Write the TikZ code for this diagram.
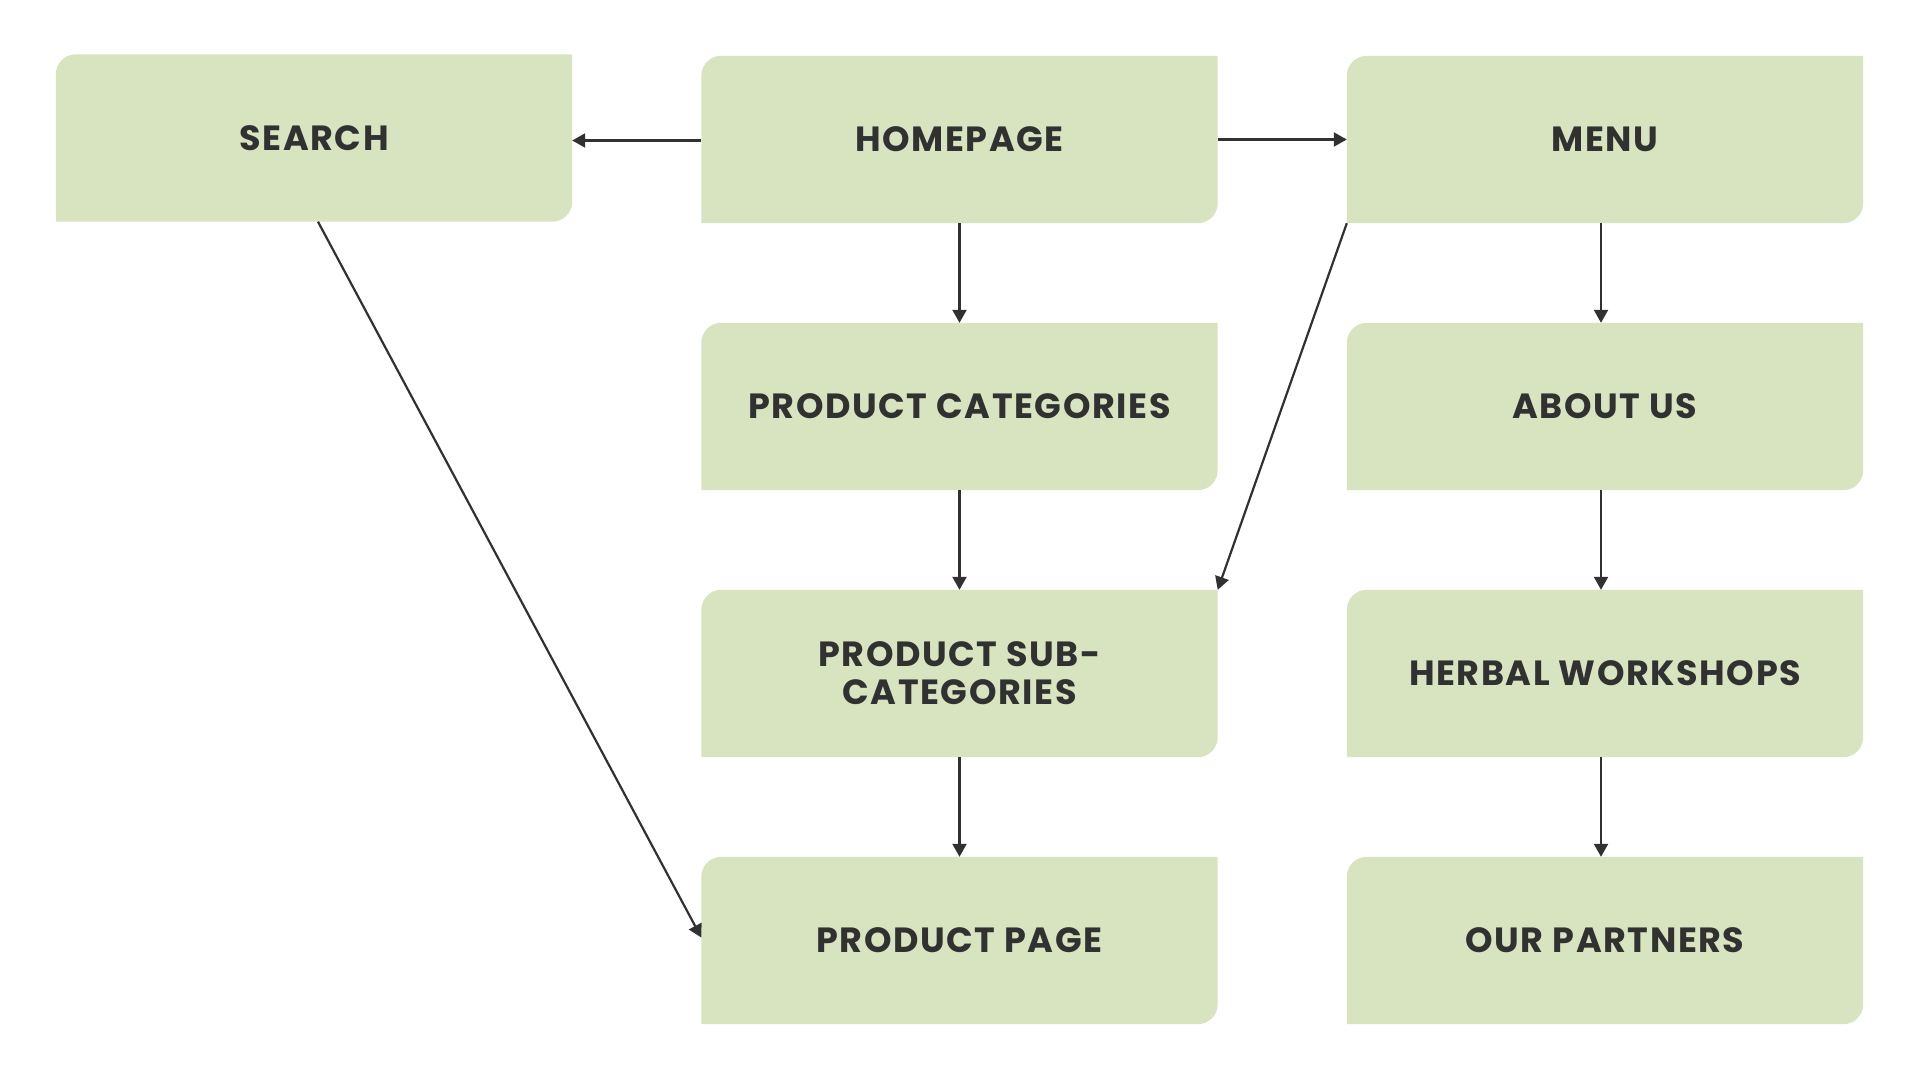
\documentclass[tikz,border=0pt]{standalone}
\usepackage{fontspec}
\setmainfont{Poppins}[LetterSpace=4.5]
\usetikzlibrary{arrows.meta,backgrounds}
\definecolor{boxfill}{HTML}{D8E3C0}
\definecolor{ink}{HTML}{313131}
\tikzset{
  boxnode/.style={minimum width=516pt, minimum height=167pt, inner sep=0pt,
    text=ink, align=center, font=\fontsize{35}{38}\selectfont\bfseries},
  conn/.style={draw=ink, line width=2.2pt, -{Triangle[length=13pt,width=14pt]}}
}
\newcommand{\leafshape}[1]{%
  \fill[boxfill] (#1.south west) -- ([yshift=-20pt]#1.north west)
    arc[start angle=180,end angle=90,radius=20pt] -- (#1.north east)
    -- ([yshift=20pt]#1.south east)
    arc[start angle=0,end angle=-90,radius=20pt] -- cycle;}
\begin{document}
\begin{tikzpicture}
\useasboundingbox (0pt,0pt) rectangle (1920pt,-1080pt);
\node[boxnode] (search) at (314pt,-138pt) {SEARCH};
\node[boxnode] (home) at (959.5pt,-139.5pt) {HOMEPAGE};
\node[boxnode] (menu) at (1605pt,-139.5pt) {MENU};
\node[boxnode] (pc) at (959.5pt,-406.5pt) {PRODUCT CATEGORIES};
\node[boxnode] (about) at (1605pt,-406.5pt) {ABOUT US};
\node[boxnode] (psc) at (959.5pt,-673.5pt) {PRODUCT SUB-\\CATEGORIES};
\node[boxnode] (herbal) at (1605pt,-673.5pt) {HERBAL WORKSHOPS};
\node[boxnode] (pp) at (959.5pt,-940.5pt) {PRODUCT PAGE};
\node[boxnode] (partners) at (1605pt,-940.5pt) {OUR PARTNERS};
\begin{scope}[on background layer]
\foreach \n in {search,home,menu,pc,about,psc,herbal,pp,partners}{\leafshape{\n}}
\end{scope}
\draw[conn] ([yshift=-1pt]home.west) -- ([yshift=-1pt]search.east |- home.west);
\draw[conn] (home.east) -- (menu.west);
\draw[conn] (home.south) -- (pc.north);
\draw[conn] (pc.south) -- (psc.north);
\draw[conn] (psc.south) -- (pp.north);
\draw[conn] ([xshift=-4pt]menu.south) -- ([xshift=-4pt]about.north);
\draw[conn] ([xshift=-4pt]about.south) -- ([xshift=-4pt]herbal.north);
\draw[conn] ([xshift=-4pt]herbal.south) -- ([xshift=-4pt]partners.north);
\draw[conn] (menu.south west) -- (psc.north east);
\draw[conn] ([xshift=4pt]search.south) -- ([yshift=3pt]pp.west);
\end{tikzpicture}
\end{document}
